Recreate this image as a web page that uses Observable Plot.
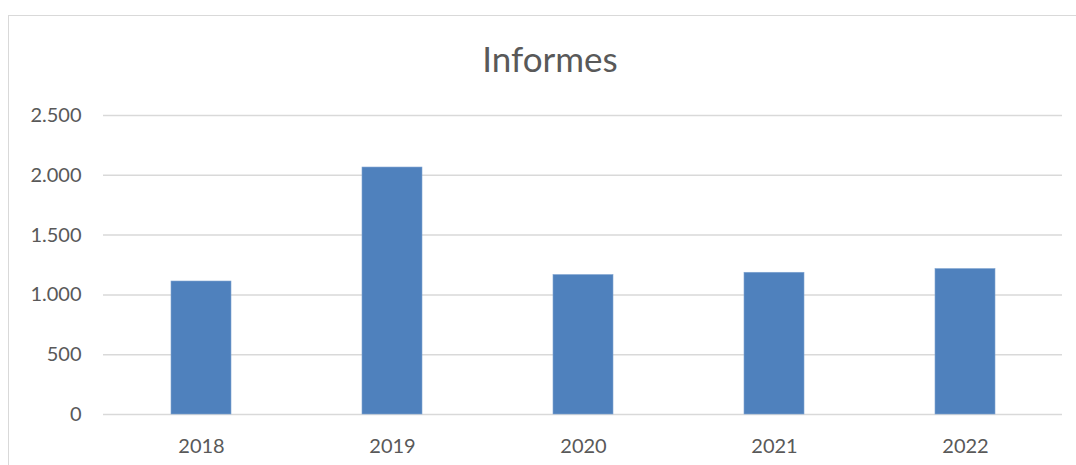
<!DOCTYPE html>
<html>
<head>
<meta charset="utf-8">
<script src="https://cdn.jsdelivr.net/npm/d3@7"></script>
<script src="https://cdn.jsdelivr.net/npm/@observablehq/plot@0.6"></script>
<style>
  html, body { margin: 0; padding: 0; background: #fff; overflow: hidden; }
  #wrap { position: relative; width: 1076px; height: 465px; }
  #border { position: absolute; left: 8px; top: 15px; width: 1100px; height: 500px; border: 1.5px solid #d9d9d9; box-sizing: border-box; }
  #chart { position: absolute; left: 0; top: 0; }
</style>
</head>
<body>
<div id="wrap"><div id="border"></div><div id="chart"></div></div>
<script>
const title = "Informes";
const years = ["2018", "2019", "2020", "2021", "2022"];
const informes = [1112, 2065, 1166, 1185, 1216];
const yTicks = [0, 500, 1000, 1500, 2000, 2500];

const data = years.map((y, i) => ({year: y, value: informes[i]}));
const fmt = d3.format(",");
const tickFmt = v => fmt(v).replace(/,/g, ".");

const chart = Plot.plot({
  width: 1076,
  height: 465,
  marginLeft: 103,
  marginRight: 14,
  marginTop: 115,
  marginBottom: 51,
  style: {fontFamily: "Lato, 'Open Sans', sans-serif", fontSize: "20px", color: "#595959", background: "transparent"},
  x: {domain: years, paddingInner: 0.687, paddingOuter: 0.344, label: null, tickSize: 0, tickPadding: 24},
  y: {domain: [0, 2500], ticks: yTicks, tickFormat: tickFmt, label: null, tickSize: 0, tickPadding: 22},
  marks: [
    Plot.ruleY(yTicks, {stroke: "#d9d9d9", strokeWidth: 1.5}),
    Plot.barY(data, {x: "year", y: "value", fill: "#4f81bd", stroke: "#7fa3d1", strokeWidth: 0.6}),
    Plot.axisY({ticks: yTicks, tickFormat: tickFmt, tickSize: 0, tickPadding: 22, fontSize: 20, fill: "#595959", label: null}),
    Plot.axisX({tickSize: 0, tickPadding: 24, fontSize: 20, fill: "#595959", label: null}),
    Plot.text([title], {frameAnchor: "top", dx: -33, dy: -68, fontSize: 35, fill: "#595959", text: d => d})
  ]
});
document.getElementById("chart").appendChild(chart);
</script>
</body>
</html>
